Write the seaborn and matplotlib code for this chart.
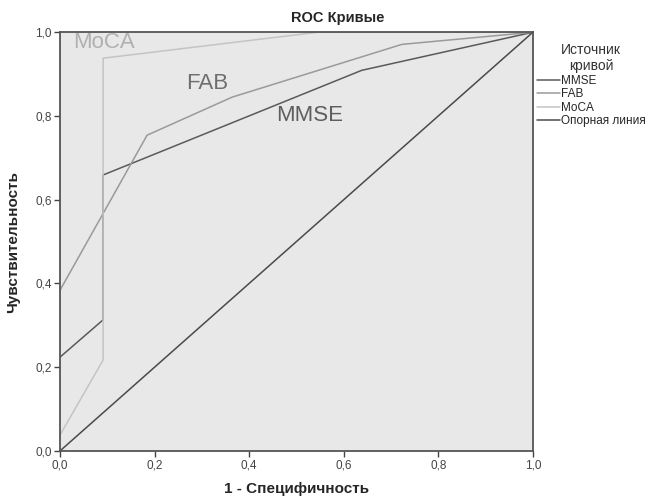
import pandas as pd
import numpy as np
import matplotlib
matplotlib.use("Agg")
import matplotlib.pyplot as plt
import seaborn as sns
from matplotlib.ticker import FuncFormatter

# =========================
# ДАННЫЕ
# =========================

mmse_x = [0.0, 0.091, 0.091, 0.638, 1.0]
mmse_y = [0.224, 0.313, 0.659, 0.909, 1.0]

fab_x = [0.0, 0.184, 0.364, 0.723, 1.0]
fab_y = [0.384, 0.754, 0.845, 0.971, 1.0]

moca_x = [0.0, 0.091, 0.091, 0.545, 1.0]
moca_y = [0.038, 0.217, 0.938, 1.0, 1.0]

ref_x = [0.0, 1.0]
ref_y = [0.0, 1.0]

sources = ["MMSE", "FAB", "MoCA", "Опорная линия"]
colors = ["#5a5a5a", "#9a9a9a", "#c4c4c4", "#4a4a4a"]

frames = []
for name, xs, ys in zip(sources,
                        [mmse_x, fab_x, moca_x, ref_x],
                        [mmse_y, fab_y, moca_y, ref_y]):
    frames.append(pd.DataFrame({"x": xs, "y": ys, "src": name}))
df = pd.concat(frames, ignore_index=True)

# =========================
# ГРАФИК
# =========================

sns.set_style("white")
plt.rcParams["font.family"] = ["Liberation Sans", "DejaVu Sans"]

fig = plt.figure(figsize=(6.53, 4.96), dpi=100)
ax = fig.add_axes([0.092, 0.091, 0.724, 0.844])
ax.set_facecolor("#e8e8e8")

sns.lineplot(
    data=df, x="x", y="y", hue="src",
    hue_order=sources,
    palette=dict(zip(sources, colors)),
    estimator=None, sort=False,
    linewidth=1.1, ax=ax
)

ax.set_xlim(0, 1)
ax.set_ylim(0, 1)
ticks = [0.0, 0.2, 0.4, 0.6, 0.8, 1.0]
ax.set_xticks(ticks)
ax.set_yticks(ticks)
fmt = FuncFormatter(lambda v, p: f"{v:.1f}".replace(".", ","))
ax.xaxis.set_major_formatter(fmt)
ax.yaxis.set_major_formatter(fmt)
ax.tick_params(direction="out", length=4, width=1, labelsize=8.5,
               colors="#444444", bottom=True, left=True, pad=2)

for s in ax.spines.values():
    s.set_color("#555555")
    s.set_linewidth(1.3)

ax.set_xlabel("1 - Специфичность", fontsize=11, fontweight="bold", labelpad=8)
ax.set_ylabel("Чувствительность", fontsize=11, fontweight="bold", labelpad=11)
fig.text(338 / 653, 1 - 18 / 496, "ROC Кривые", fontsize=10.5,
         fontweight="bold", ha="center", va="center")

# подписи кривых
ax.text(0.027, 0.976, "MoCA", fontsize=16, color="#b0b0b0", va="center")
ax.text(0.311, 0.878, "FAB", fontsize=16, color="#6e6e6e", va="center", ha="center")
ax.text(0.528, 0.80, "MMSE", fontsize=16, color="#5e5e5e", va="center", ha="center")

leg = ax.legend(
    title="Источник\nкривой", loc="upper left",
    bbox_to_anchor=(0.998, 0.985), frameon=False,
    fontsize=8.5, title_fontsize=10, handlelength=2.0,
    handletextpad=0.05, labelspacing=0.12, borderaxespad=0
)
leg._legend_box.align = "center"
leg.get_title().set_multialignment("center")
leg.get_title().set_color("#333333")

plt.savefig("out.png", dpi=100)
